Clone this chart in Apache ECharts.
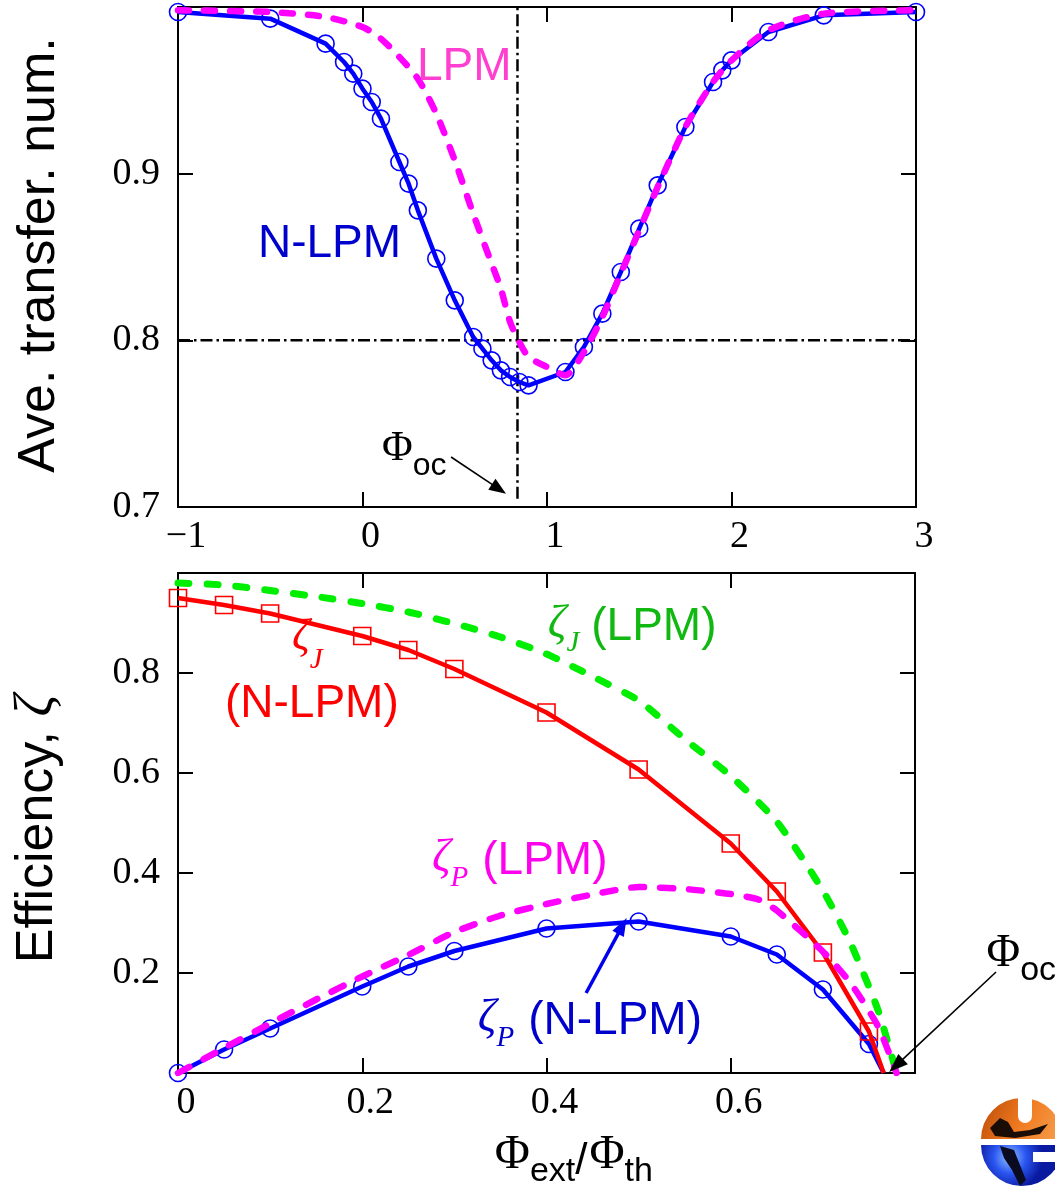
<!DOCTYPE html>
<html><head><meta charset="utf-8">
<script src="https://cdn.jsdelivr.net/npm/echarts@6/dist/echarts.min.js"></script>
<style>html,body{margin:0;padding:0;background:#fff}#c{width:1055px;height:1187px}</style>
</head><body><div id="c"></div>
<script>
// ================= DATA =================
// Top panel: average transfer number vs Phi_ext/Phi_th
const topNlpmX = [-1, -0.5, -0.2, -0.1, -0.05, 0, 0.05, 0.1, 0.2, 0.25, 0.3, 0.4, 0.5, 0.6, 0.65, 0.7, 0.75, 0.8, 0.85, 0.9, 1.1, 1.2, 1.3, 1.4, 1.5, 1.6, 1.75, 1.9, 1.95, 2.0, 2.2, 2.5, 3.0];
const topNlpmY = [0.997, 0.993, 0.978, 0.967, 0.960, 0.951, 0.943, 0.933, 0.907, 0.894, 0.878, 0.849, 0.824, 0.802, 0.795, 0.788, 0.782, 0.778, 0.775, 0.773, 0.781, 0.796, 0.816, 0.841, 0.867, 0.893, 0.928, 0.955, 0.962, 0.968, 0.985, 0.995, 0.997];
const topLpmX = [-1, -0.5, -0.2, 0, 0.1, 0.2, 0.3, 0.4, 0.5, 0.6, 0.7, 0.75, 0.8, 0.85, 0.9, 1.0, 1.1, 1.2, 1.3, 1.4, 1.5, 1.6, 1.75, 1.9, 2.0, 2.2, 2.5, 3.0];
const topLpmY = [0.998, 0.997, 0.994, 0.988, 0.981, 0.970, 0.957, 0.936, 0.908, 0.876, 0.846, 0.831, 0.811, 0.799, 0.790, 0.784, 0.779, 0.793, 0.814, 0.840, 0.866, 0.892, 0.928, 0.955, 0.968, 0.986, 0.996, 0.998];
const topRefLevel = [0.8];      // horizontal dash-dot reference
const topPhiOc = [0.84];        // vertical dash-dot reference (Phi_oc)
const topXTicks = [-1, 3, 1];   // min, max, interval
const topYTicks = [0.7, 1.0, 0.1];

// Bottom panel: efficiency vs Phi_ext/Phi_th
const botNlpmX = [0, 0.05, 0.1, 0.2, 0.25, 0.3, 0.4, 0.5, 0.6, 0.65, 0.7, 0.75];
const botNlpmEndX = [0.766];
const zetaJNlpm = [0.95, 0.936, 0.919, 0.874, 0.846, 0.808, 0.721, 0.607, 0.459, 0.363, 0.241, 0.083];
const zetaPNlpm = [0, 0.047, 0.089, 0.173, 0.213, 0.244, 0.289, 0.303, 0.273, 0.237, 0.167, 0.058];
const nlpmEndY = [0];
const zetaJLpmX = [0, 0.05, 0.1, 0.15, 0.2, 0.25, 0.3, 0.35, 0.4, 0.45, 0.5, 0.55, 0.6, 0.65, 0.7, 0.73, 0.76, 0.78];
const zetaJLpmY = [0.980, 0.976, 0.965, 0.953, 0.939, 0.922, 0.899, 0.872, 0.838, 0.793, 0.745, 0.668, 0.594, 0.503, 0.365, 0.26, 0.125, 0];
const zetaPLpmX = [0, 0.05, 0.1, 0.15, 0.2, 0.25, 0.3, 0.35, 0.4, 0.45, 0.5, 0.55, 0.6, 0.63, 0.65, 0.7, 0.73, 0.76, 0.78];
const zetaPLpmY = [0, 0.05, 0.099, 0.147, 0.193, 0.236, 0.282, 0.315, 0.338, 0.357, 0.372, 0.368, 0.358, 0.347, 0.325, 0.243, 0.18, 0.093, 0];
const botXTicks = [0, 0.8, 0.2];
const botYTicks = [0, 1.0, 0.2];

// ================= CHART =================
const SERIF = '"Liberation Serif", "Times New Roman", serif';
const SANS = '"Liberation Sans", Arial, sans-serif';
const pairs = (xs, ys) => xs.map((x, i) => [x, ys[i]]);
const chart = echarts.init(document.getElementById('c'), null, {renderer: 'canvas'});

const frameLine = {show: true, onZero: false, lineStyle: {color: '#000', width: 2}};
const tick = {show: true, inside: true, length: 15, lineStyle: {color: '#000', width: 2}};
function xAx(grid, pos, t, labelFmt) {
  return {
    type: 'value', gridIndex: grid, position: pos, min: t[0], max: t[1], interval: t[2],
    axisLine: frameLine, axisTick: tick, splitLine: {show: false},
    axisLabel: labelFmt ? {show: true, showMinLabel: true, showMaxLabel: true, fontFamily: SERIF, fontSize: 38, color: '#000', margin: 11, padding: [0, 0, 0, 16], formatter: labelFmt} : {show: false}
  };
}
function yAx(grid, pos, t, labelFmt) {
  return {
    type: 'value', gridIndex: grid, position: pos, min: t[0], max: t[1], interval: t[2],
    axisLine: frameLine, axisTick: tick, splitLine: {show: false},
    axisLabel: labelFmt ? {show: true, showMinLabel: true, showMaxLabel: true, fontFamily: SERIF, fontSize: 38, color: '#000', margin: 18, padding: [13, 0, 0, 0], formatter: labelFmt} : {show: false}
  };
}
const topXFmt = v => (v < 0 ? '\u2212' + Math.abs(v) : String(Math.round(v)));
const topYFmt = v => (v > 0.99 ? '' : v.toFixed(1));
const botXFmt = v => (v > 0.79 ? '' : (Math.abs(v) < 1e-9 ? '0' : v.toFixed(1)));
const botYFmt = v => ((v < 0.01 || v > 0.99) ? '' : v.toFixed(1));

const circleStyle = {color: 'rgba(0,0,0,0)', borderColor: '#0000ff', borderWidth: 1.6};
const squareStyle = {color: 'rgba(0,0,0,0)', borderColor: '#ff0000', borderWidth: 1.6};
const dashDot = {color: '#000', width: 2.5, type: [12, 4, 2.5, 4]};

function withEnd(xs, ys, ex, ey) {
  const d = pairs(xs, ys).map(p => ({value: p}));
  d.push({value: [ex[0], ey[0]], symbol: 'none'});
  return d;
}

const option = {
  animation: false,
  backgroundColor: '#fff',
  grid: [
    {left: 178, top: 7, width: 738, height: 500},
    {left: 178, top: 573, width: 737, height: 500}
  ],
  xAxis: [
    xAx(0, 'bottom', topXTicks, topXFmt), xAx(0, 'top', topXTicks, null),
    xAx(1, 'bottom', botXTicks, botXFmt), xAx(1, 'top', botXTicks, null)
  ],
  yAxis: [
    yAx(0, 'left', topYTicks, topYFmt), yAx(0, 'right', topYTicks, null),
    yAx(1, 'left', botYTicks, botYFmt), yAx(1, 'right', botYTicks, null)
  ],
  series: [
    {type: 'line', xAxisIndex: 0, yAxisIndex: 0, silent: true, symbol: 'none', z: 1,
     data: [[topXTicks[0], topRefLevel[0]], [topXTicks[1], topRefLevel[0]]], lineStyle: dashDot},
    {type: 'line', xAxisIndex: 0, yAxisIndex: 0, silent: true, symbol: 'none', z: 1,
     data: [[topPhiOc[0], 0.705], [topPhiOc[0], topYTicks[1]]], lineStyle: dashDot},
    {type: 'line', xAxisIndex: 0, yAxisIndex: 0, silent: true, z: 2,
     data: pairs(topNlpmX, topNlpmY), symbol: 'circle', symbolSize: 17,
     itemStyle: circleStyle, lineStyle: {color: '#0000ff', width: 4.5}},
    {type: 'line', xAxisIndex: 0, yAxisIndex: 0, silent: true, z: 3, smooth: 0.25,
     data: pairs(topLpmX, topLpmY), symbol: 'none',
     lineStyle: {color: '#ff00ff', width: 6.5, type: [11, 15], cap: 'round'}},

    {type: 'line', xAxisIndex: 2, yAxisIndex: 2, silent: true, z: 2,
     data: withEnd(botNlpmX, zetaPNlpm, botNlpmEndX, nlpmEndY), symbol: 'circle', symbolSize: 17,
     itemStyle: circleStyle, lineStyle: {color: '#0000ff', width: 4.5}},
    {type: 'line', xAxisIndex: 2, yAxisIndex: 2, silent: true, z: 3,
     data: withEnd(botNlpmX, zetaJNlpm, botNlpmEndX, nlpmEndY), symbol: 'rect', symbolSize: 17,
     itemStyle: squareStyle, lineStyle: {color: '#ff0000', width: 4.5}},
    {type: 'line', xAxisIndex: 2, yAxisIndex: 2, silent: true, z: 4, smooth: 0.2,
     data: pairs(zetaJLpmX, zetaJLpmY), symbol: 'none',
     lineStyle: {color: '#00ee00', width: 7, type: [11, 18], cap: 'round'}},
    {type: 'line', xAxisIndex: 2, yAxisIndex: 2, silent: true, z: 5, smooth: 0.2,
     data: pairs(zetaPLpmX, zetaPLpmY), symbol: 'none',
     lineStyle: {color: '#ff00ff', width: 6.5, type: [13, 16], cap: 'round'}}
  ]
};
chart.setOption(option);

// ================= ANNOTATIONS =================
const mctx = document.createElement('canvas').getContext('2d');
function measure(font, t) { mctx.font = font; return mctx.measureText(t).width; }
function fontOf(p) { return (p.italic ? 'italic ' : '') + p.size + 'px ' + p.family; }
function runs(anchor, parts) {
  let x = anchor[0];
  const out = [];
  for (const p of parts) {
    const font = fontOf(p);
    x += (p.dx || 0);
    const base = anchor[1] + (p.dy || 0);
    out.push({type: 'text', x: x, y: base - 0.34 * p.size, silent: true, z: 100,
      style: {text: p.t, font: font, fill: p.color, align: 'left', verticalAlign: 'middle'}});
    x += measure(font, p.t);
  }
  return out;
}
function rotatedRuns(cx, cy, parts, size) {
  let W = 0;
  parts.forEach(p => { W += measure(fontOf(p), p.t) + (p.dx || 0); });
  const children = runs([-W / 2, 0.36 * size], parts);
  return {type: 'group', x: cx, y: cy, rotation: Math.PI / 2, children: children, z: 100};
}
function arrow(p0, p1, color, lw, hl, hw) {
  const dx = p1[0] - p0[0], dy = p1[1] - p0[1], L = Math.hypot(dx, dy), ux = dx / L, uy = dy / L;
  const bx = p1[0] - ux * hl, by = p1[1] - uy * hl, nx = -uy, ny = ux;
  return [
    {type: 'line', silent: true, z: 100, shape: {x1: p0[0], y1: p0[1], x2: bx + ux * 2, y2: by + uy * 2}, style: {stroke: color, lineWidth: lw}},
    {type: 'polygon', silent: true, z: 100, shape: {points: [[p1[0], p1[1]], [bx + nx * hw / 2, by + ny * hw / 2], [bx - nx * hw / 2, by - ny * hw / 2]]}, style: {fill: color}}
  ];
}
const T = v => chart.convertToPixel({xAxisIndex: 0, yAxisIndex: 0}, v);
const B = v => chart.convertToPixel({xAxisIndex: 2, yAxisIndex: 2}, v);

const RED = '#ff0000', GREEN = '#11b811', MAG = '#ff00ee', BLUE = '#0000cc';
const zeta = (c, s) => ({t: '\u03B6', size: s || 46, family: SERIF, italic: true, color: c, dy: -2});
const sub = (t, c, dy) => ({t: t, size: 29, family: SERIF, italic: true, color: c, dy: dy});
const sans = (t, c, s, dx) => ({t: t, size: s || 46, family: SANS, color: c, dx: dx || 0});

let els = [];
// top panel labels
els = els.concat(runs(T([0.2954, 0.9544]), [sans('LPM', '#ff3fcf')]));
els = els.concat(runs(T([-0.5664, 0.8482]), [sans('N-LPM', BLUE)]));
els = els.concat(runs(T([0.1057, 0.7264]), [
  {t: '\u03A6', size: 42, family: SERIF, color: '#000'},
  {t: 'oc', size: 32, family: SANS, color: '#000', dy: 14}
]));
els = els.concat(arrow(T([0.48, 0.730]), T([0.778, 0.708]), '#000', 1.6, 17, 13));

// bottom panel labels
els = els.concat(runs(B([0.1237, 0.838]), [zeta(RED, 44), sub('J', RED, 16)]));
els = els.concat(runs(B([0.051, 0.706]), [sans('(N-LPM)', RED)]));
els = els.concat(runs(B([0.4014, 0.86]), [zeta(GREEN), sub('J', GREEN, 10), sans('(LPM)', GREEN, 46, 12)]));
els = els.concat(runs(B([0.2756, 0.392]), [zeta(MAG), sub('P', MAG, 11), sans('(LPM)', MAG, 46, 14)]));
els = els.concat(runs(B([0.3255, 0.072]), [zeta(BLUE), sub('P', BLUE, 11), sans('(N-LPM)', BLUE, 46, 14)]));
els = els.concat(arrow(B([0.443, 0.16]), B([0.487, 0.31]), '#0000ee', 3.5, 18, 13));
els = els.concat(runs(B([0.8777, 0.206]), [
  {t: '\u03A6', size: 46, family: SERIF, color: '#000'},
  {t: 'oc', size: 34, family: SANS, color: '#000', dy: 12}
]));
els = els.concat(arrow(B([0.888, 0.202]), B([0.772, 0.002]), '#000', 1.6, 19, 14));

// x-axis title
els = els.concat(runs(B([0.3439, -0.198]), [
  {t: '\u03A6', size: 48, family: SERIF, color: '#000'},
  {t: 'ext', size: 34, family: SANS, color: '#000', dy: 11},
  {t: '/', size: 44, family: SANS, color: '#000', dy: 5},
  {t: '\u03A6', size: 48, family: SERIF, color: '#000', dx: 2},
  {t: 'th', size: 34, family: SANS, color: '#000', dy: 11}
]));

// y-axis titles (rotated)
els.push(rotatedRuns(39, 255, [{t: 'Ave. transfer. num.', size: 52, family: SANS, color: '#000'}], 52));
els.push(rotatedRuns(37, 829, [
  {t: 'Efficiency, ', size: 52, family: SANS, color: '#000'},
  {t: '\u03B6', size: 54, family: SERIF, italic: true, color: '#000'}
], 52));

// small logo (decoration, bottom right)
els.push({type: 'group', silent: true, z: 90, children: [
  {type: 'sector', shape: {cx: 1022, cy: 1139, r: 41, startAngle: Math.PI, endAngle: 2 * Math.PI},
   style: {fill: {type: 'linear', x: 0, y: 0, x2: 1, y2: 1, colorStops: [{offset: 0, color: '#b84a08'}, {offset: 0.5, color: '#f07a20'}, {offset: 1, color: '#f5a050'}]}}},
  {type: 'rect', shape: {x: 1018, y: 1096, width: 14, height: 27, r: [0, 0, 7, 7]}, style: {fill: '#fff'}},
  {type: 'polygon', shape: {points: [[990, 1128], [1000, 1118], [1008, 1122], [1014, 1132], [1030, 1130], [1048, 1124], [1040, 1134], [1015, 1138], [995, 1136]]}, style: {fill: '#1a0d05'}},
  {type: 'sector', shape: {cx: 1022, cy: 1145, r: 41, startAngle: 0, endAngle: Math.PI},
   style: {fill: {type: 'radial', x: 0.35, y: 0.3, r: 0.8, colorStops: [{offset: 0, color: '#90c0ff'}, {offset: 0.5, color: '#2a55f0'}, {offset: 1, color: '#0a1aa0'}]}}},
  {type: 'polygon', shape: {points: [[1000, 1146], [1014, 1150], [1020, 1165], [1026, 1180], [1020, 1186], [1012, 1170], [1004, 1158]]}, style: {fill: '#0a0a20'}},
  {type: 'rect', shape: {x: 1033, y: 1152, width: 26, height: 10}, style: {fill: '#fff'}}
]});

chart.setOption({graphic: {elements: els}});
</script>
</body></html>
